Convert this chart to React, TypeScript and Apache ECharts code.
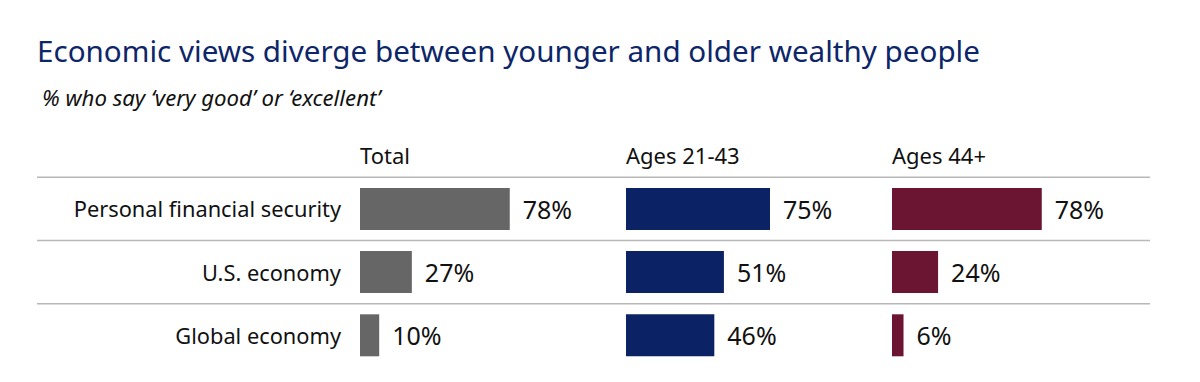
import React, { useEffect, useRef } from "react";
import * as echarts from "echarts";

const categories = ["Personal financial security", "U.S. economy", "Global economy"];
const groupNames = ["Total", "Ages 21-43", "Ages 44+"];
const totalValues = [78, 27, 10];
const youngValues = [75, 51, 46];
const olderValues = [78, 24, 6];
const groupValues = [totalValues, youngValues, olderValues];
const groupColors = ["#666666", "#0b2265", "#6b1533"];

const titleText = "Economic views diverge between younger and older wealthy people";
const subtitleText = "% who say \u2018very good\u2019 or \u2018excellent\u2019";

const FONT = "'Noto Sans', sans-serif";
const PANEL_LEFT = [360, 626, 892];
const PANEL_W = 192;
const GRID_TOP = 177.3;
const ROW_H = 63.2;
const LINE_X0 = 37;
const LINE_X1 = 1150;

export default function App() {
  const ref = useRef<HTMLDivElement>(null);
  useEffect(() => {
    if (!ref.current) return;
    const chart = echarts.init(ref.current, null, { renderer: "svg" });
    const n = categories.length;
    const grids = PANEL_LEFT.map((left) => ({
      left,
      top: GRID_TOP,
      width: PANEL_W,
      height: ROW_H * n,
      containLabel: false,
    }));
    const xAxes = PANEL_LEFT.map((_, i) => ({
      type: "value",
      gridIndex: i,
      min: 0,
      max: 100,
      show: false,
    }));
    const yAxes = PANEL_LEFT.map((_, i) => ({
      type: "category",
      gridIndex: i,
      data: categories,
      inverse: true,
      axisLine: { show: false },
      axisTick: { show: false },
      splitLine: { show: false },
      axisLabel: {
        show: i === 0,
        margin: 19,
        fontSize: 21.8,
        fontFamily: FONT,
        color: "#111111",
      },
    }));
    const series = groupValues.map((vals, i) => ({
      type: "bar",
      name: groupNames[i],
      xAxisIndex: i,
      yAxisIndex: i,
      data: vals,
      barWidth: 42,
      itemStyle: { color: groupColors[i] },
      label: {
        show: true,
        position: "right",
        distance: 13,
        formatter: "{c}%",
        fontSize: 25,
        fontFamily: FONT,
        color: "#111111",
      },
    }));
    const graphics: any[] = [
      {
        type: "text",
        left: 37,
        top: 35,
        style: { text: titleText, fontSize: 29.6, fontFamily: FONT, fill: "#0d2669" },
      },
      {
        type: "text",
        left: 42,
        top: 86,
        style: { text: subtitleText, fontSize: 22.2, fontStyle: "italic", fontFamily: FONT, fill: "#111111" },
      },
    ];
    groupNames.forEach((g, i) => {
      graphics.push({
        type: "text",
        x: PANEL_LEFT[i],
        y: 155,
        style: { text: g, fontSize: 22, fontFamily: FONT, fill: "#111111", verticalAlign: "middle", align: "left" },
      });
    });
    for (let i = 0; i < n; i++) {
      const y = GRID_TOP + i * ROW_H;
      graphics.push({
        type: "line",
        shape: { x1: LINE_X0, y1: y, x2: LINE_X1, y2: y },
        style: { stroke: "#b8b8b8", lineWidth: 1.6 },
      });
    }
    chart.setOption({
      animation: false,
      backgroundColor: "#ffffff",
      grid: grids,
      xAxis: xAxes,
      yAxis: yAxes,
      series,
      graphic: graphics,
    });
    return () => chart.dispose();
  }, []);
  return <div ref={ref} style={{ width: 1200, height: 382, position: "absolute", left: 0, top: 0 }} />;
}
